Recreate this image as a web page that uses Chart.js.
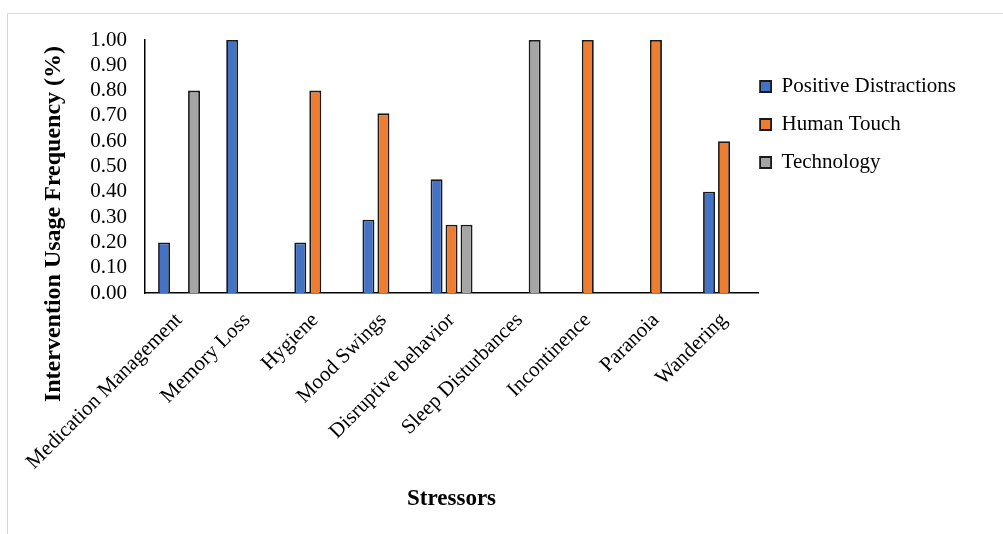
<!DOCTYPE html>
<html>
<head>
<meta charset="utf-8">
<script src="https://cdn.jsdelivr.net/npm/chart.js@4.4.1/dist/chart.umd.min.js"></script>
<style>
  body { margin: 0; background: #fff; }
  #wrap { position: relative; width: 1003px; height: 534px; overflow: hidden; }
  #frame { position: absolute; left: 7px; top: 13px; width: 1010px; height: 540px; border: 1px solid #d9d9d9; }
  canvas { position: absolute; left: 0; top: 0; }
</style>
</head>
<body>
<div id="wrap">
  <div id="frame"></div>
  <canvas id="myChart" width="1003" height="534"></canvas>
</div>
<script>
'use strict';
const FONT = '"Liberation Serif", "Times New Roman", serif';
const Y_TITLE = 'Intervention Usage Frequency (%)';
const X_TITLE = 'Stressors';

const stressors = ['Medication Management', 'Memory Loss', 'Hygiene', 'Mood Swings',
  'Disruptive behavior', 'Sleep Disturbances', 'Incontinence', 'Paranoia', 'Wandering'];
const positiveDistractions = [0.20, 1.00, 0.20, 0.29, 0.45, null, null, null, 0.40];
const humanTouch = [null, null, 0.80, 0.71, 0.27, null, 1.00, 1.00, 0.60];
const technology = [0.80, null, null, null, 0.27, 1.00, null, null, null];
const Y_MIN = 0, Y_MAX = 1, Y_STEP = 0.1;

// y title is drawn by hand so it can sit lower than the plot centre, like the original
const yTitle = {
  id: 'yTitle',
  afterDraw(chart) {
    const c = chart.ctx;
    c.save();
    c.translate(54, 224);
    c.rotate(-Math.PI / 2);
    c.font = 'bold 24px ' + FONT;
    c.fillStyle = '#000';
    c.textAlign = 'center';
    c.textBaseline = 'middle';
    c.fillText(Y_TITLE, 0, 0);
    c.restore();
  }
};

// legend sits tight against the plot and a bit lower
const legendNudge = {
  id: 'legendNudge',
  afterLayout(chart) {
    const l = chart.legend;
    l.left -= 15; l.right -= 15;
    l.top += 19; l.bottom += 19;
  }
};

function bars(label, data, color) {
  return {
    label: label,
    data: data,
    backgroundColor: color,
    borderColor: '#1a1a1a',
    borderWidth: 1.8,
    categoryPercentage: 0.66,
    barPercentage: 0.8
  };
}

const ctx = document.getElementById('myChart');
new Chart(ctx, {
  type: 'bar',
  data: {
    labels: stressors,
    datasets: [
      bars('Positive Distractions', positiveDistractions, '#4472C4'),
      bars('Human Touch', humanTouch, '#ED7D31'),
      bars('Technology', technology, '#A5A5A5')
    ]
  },
  options: {
    responsive: false,
    animation: false,
    layout: { padding: { left: 0, top: 40, right: 22, bottom: 17 } },
    plugins: {
      tooltip: { enabled: false },
      legend: {
        position: 'right',
        align: 'start',
        labels: {
          boxWidth: 11,
          boxHeight: 11,
          padding: 17,
          color: '#000',
          font: { family: FONT, size: 21 }
        }
      }
    },
    scales: {
      x: {
        grid: { display: false, drawTicks: false },
        border: { display: true, color: '#000', width: 1.5 },
        ticks: {
          color: '#000',
          font: { family: FONT, size: 21 },
          maxRotation: 45,
          minRotation: 45,
          autoSkip: false,
          padding: 15
        },
        title: {
          display: true,
          text: X_TITLE,
          color: '#000',
          font: { family: FONT, size: 23, weight: 'bold' }
        },
        afterFit(scale) { scale.height = 534 - 293 - 17; }
      },
      y: {
        min: Y_MIN,
        max: Y_MAX,
        grid: { display: false, drawTicks: false },
        border: { display: true, color: '#000', width: 1.5 },
        ticks: {
          stepSize: Y_STEP,
          autoSkip: false,
          color: '#000',
          font: { family: FONT, size: 21 },
          padding: 18,
          callback: (value) => Number(value).toFixed(2)
        },
        afterFit(scale) { scale.width = 145; }
      }
    }
  },
  plugins: [yTitle, legendNudge]
});
</script>
</body>
</html>
